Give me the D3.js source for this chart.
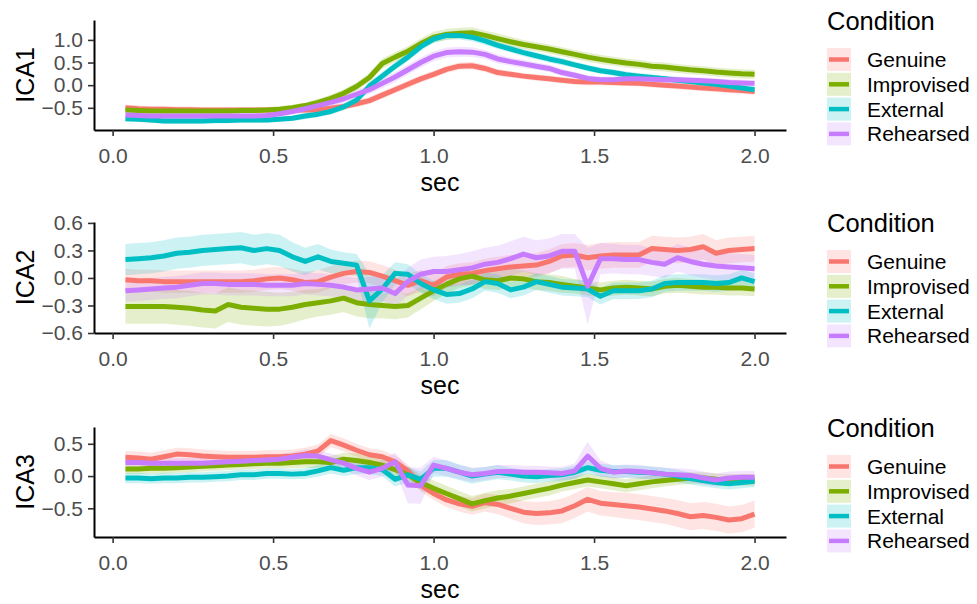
<!DOCTYPE html>
<html>
<head>
<meta charset="utf-8">
<script src="https://cdn.jsdelivr.net/npm/d3@7"></script>
<style>
  html, body { margin: 0; padding: 0; background: #fff; }
  svg { display: block; font-family: "Liberation Sans", Arial, sans-serif; }
</style>
</head>
<body>
<svg id="chart" width="977" height="604"></svg>
<script>
// ---------- data ----------
const times = [0.04,0.08,0.12,0.16,0.20,0.24,0.28,0.32,0.36,0.40,
  0.44,0.48,0.52,0.56,0.60,0.64,0.68,0.72,0.76,0.80,
  0.84,0.88,0.92,0.96,1.00,1.04,1.08,1.12,1.16,1.20,
  1.24,1.28,1.32,1.36,1.40,1.44,1.48,1.52,1.56,1.60,
  1.64,1.68,1.72,1.76,1.80,1.84,1.88,1.92,1.96,2.00];

const conditions = ["Genuine", "Improvised", "External", "Rehearsed"];
const conditionColors = ["#F8766D", "#7CAE00", "#00BFC4", "#C77CFF"];

const xTickValues = [0, 0.5, 1.0, 1.5, 2.0];
const ica1TickValues = [-0.5, 0, 0.5, 1.0];
const ica2TickValues = [-0.6, -0.3, 0, 0.3, 0.6];
const ica3TickValues = [-0.5, 0, 0.5];

// ICA1 means
const ica1Genuine = [-0.50,-0.52,-0.53,-0.53,-0.54,-0.54,-0.55,-0.55,-0.55,-0.55,
 -0.55,-0.55,-0.55,-0.55,-0.55,-0.54,-0.51,-0.47,-0.41,-0.34,
 -0.22,-0.10,0.02,0.14,0.24,0.35,0.42,0.43,0.37,0.28,
 0.24,0.20,0.17,0.14,0.11,0.08,0.07,0.07,0.06,0.05,
 0.04,0.02,0.00,-0.02,-0.04,-0.06,-0.08,-0.10,-0.12,-0.14];
const ica1Improvised = [-0.55,-0.56,-0.57,-0.57,-0.57,-0.57,-0.57,-0.57,-0.57,-0.56,
 -0.56,-0.55,-0.53,-0.50,-0.45,-0.38,-0.29,-0.18,-0.03,0.17,
 0.48,0.62,0.75,0.92,1.06,1.12,1.15,1.16,1.10,1.03,
 0.96,0.90,0.85,0.80,0.74,0.68,0.62,0.57,0.53,0.49,
 0.46,0.42,0.40,0.37,0.34,0.32,0.29,0.27,0.25,0.24];
const ica1External = [-0.74,-0.75,-0.77,-0.79,-0.79,-0.79,-0.79,-0.78,-0.78,-0.77,
 -0.77,-0.77,-0.75,-0.73,-0.68,-0.64,-0.58,-0.48,-0.33,-0.02,
 0.20,0.42,0.62,0.85,1.02,1.10,1.10,1.06,0.98,0.88,
 0.80,0.72,0.65,0.58,0.52,0.45,0.38,0.32,0.28,0.23,
 0.20,0.17,0.14,0.11,0.08,0.05,0.02,-0.02,-0.06,-0.10];
const ica1Rehearsed = [-0.66,-0.67,-0.68,-0.68,-0.68,-0.68,-0.68,-0.68,-0.68,-0.68,
 -0.68,-0.67,-0.63,-0.58,-0.52,-0.45,-0.38,-0.30,-0.20,-0.10,
 0.04,0.18,0.34,0.50,0.64,0.72,0.74,0.73,0.68,0.58,
 0.52,0.47,0.42,0.37,0.28,0.22,0.15,0.12,0.12,0.14,
 0.14,0.13,0.12,0.12,0.11,0.10,0.08,0.06,0.05,0.04];
// ICA1 ribbon half-widths
const ica1GenuineSe = [0.07,0.07,0.07,0.07,0.07,0.07,0.07,0.07,0.07,0.07,
 0.07,0.07,0.07,0.07,0.07,0.07,0.07,0.07,0.08,0.08,
 0.08,0.08,0.08,0.08,0.08,0.08,0.08,0.08,0.08,0.08,
 0.07,0.07,0.07,0.07,0.07,0.07,0.07,0.07,0.07,0.07,
 0.07,0.07,0.07,0.07,0.07,0.07,0.07,0.07,0.07,0.07];
const ica1ImprovisedSe = [0.06,0.06,0.06,0.06,0.06,0.06,0.06,0.06,0.06,0.06,
 0.06,0.06,0.07,0.07,0.07,0.08,0.08,0.09,0.09,0.10,
 0.11,0.11,0.11,0.11,0.12,0.12,0.12,0.12,0.11,0.11,
 0.11,0.10,0.10,0.10,0.10,0.10,0.10,0.10,0.10,0.10,
 0.10,0.10,0.10,0.10,0.10,0.10,0.10,0.10,0.10,0.10];
const ica1ExternalSe = [0.06,0.06,0.06,0.06,0.06,0.06,0.06,0.06,0.06,0.06,
 0.06,0.06,0.06,0.06,0.07,0.07,0.07,0.08,0.08,0.09,
 0.09,0.09,0.09,0.09,0.09,0.09,0.09,0.09,0.09,0.08,
 0.08,0.08,0.08,0.08,0.08,0.07,0.07,0.07,0.07,0.07,
 0.07,0.07,0.07,0.07,0.07,0.07,0.07,0.07,0.07,0.07];
const ica1RehearsedSe = [0.06,0.06,0.06,0.06,0.06,0.06,0.06,0.06,0.06,0.06,
 0.06,0.06,0.07,0.07,0.08,0.08,0.09,0.09,0.10,0.10,
 0.11,0.11,0.11,0.11,0.11,0.11,0.11,0.11,0.10,0.10,
 0.09,0.09,0.08,0.08,0.08,0.07,0.07,0.07,0.07,0.07,
 0.07,0.07,0.07,0.07,0.07,0.07,0.07,0.07,0.07,0.07];

// ICA2 means
const ica2Genuine = [-0.02,-0.03,-0.03,-0.04,-0.04,-0.04,-0.04,-0.04,-0.04,-0.04,
 -0.03,-0.01,0.00,-0.02,-0.05,-0.04,0.01,0.05,0.07,0.06,
 0.02,-0.03,-0.08,-0.03,-0.08,0.01,0.04,0.05,0.08,0.10,
 0.12,0.13,0.14,0.18,0.24,0.25,0.22,0.24,0.25,0.25,
 0.25,0.32,0.31,0.30,0.31,0.34,0.27,0.30,0.31,0.32];
const ica2Improvised = [-0.31,-0.31,-0.31,-0.31,-0.32,-0.33,-0.35,-0.36,-0.29,-0.32,
 -0.33,-0.34,-0.34,-0.32,-0.29,-0.27,-0.25,-0.22,-0.27,-0.29,
 -0.30,-0.31,-0.30,-0.22,-0.14,-0.07,-0.01,0.02,-0.02,-0.03,
 0.00,-0.01,-0.04,-0.05,-0.07,-0.09,-0.11,-0.13,-0.11,-0.10,
 -0.11,-0.12,-0.09,-0.08,-0.09,-0.10,-0.10,-0.11,-0.11,-0.12];
const ica2External = [0.20,0.21,0.22,0.24,0.27,0.28,0.30,0.31,0.32,0.33,
 0.30,0.32,0.30,0.23,0.18,0.23,0.18,0.16,0.14,-0.25,
 -0.12,0.05,0.04,-0.06,-0.13,-0.18,-0.17,-0.12,-0.04,-0.06,
 -0.13,-0.10,-0.04,-0.07,-0.10,-0.11,-0.12,-0.20,-0.14,-0.14,
 -0.14,-0.12,-0.06,-0.05,-0.05,-0.05,-0.06,-0.05,0.00,-0.04];
const ica2Rehearsed = [-0.14,-0.13,-0.12,-0.11,-0.10,-0.08,-0.06,-0.06,-0.07,-0.07,
 -0.07,-0.08,-0.08,-0.08,-0.06,-0.07,-0.08,-0.10,-0.13,-0.12,
 -0.11,-0.17,-0.04,0.04,0.07,0.07,0.09,0.11,0.15,0.17,
 0.21,0.26,0.22,0.24,0.29,0.29,-0.09,0.21,0.21,0.20,
 0.20,0.17,0.15,0.22,0.18,0.15,0.13,0.12,0.11,0.10];
// ICA2 ribbon half-widths
const ica2GenuineSe = [0.12,0.12,0.12,0.12,0.12,0.12,0.12,0.12,0.12,0.12,
 0.12,0.12,0.12,0.12,0.12,0.12,0.12,0.12,0.12,0.12,
 0.12,0.12,0.12,0.12,0.12,0.12,0.12,0.12,0.13,0.13,
 0.13,0.13,0.13,0.13,0.13,0.13,0.14,0.14,0.14,0.14,
 0.14,0.14,0.14,0.14,0.14,0.14,0.14,0.14,0.14,0.14];
const ica2ImprovisedSe = [0.19,0.19,0.19,0.19,0.19,0.19,0.19,0.19,0.19,0.19,
 0.19,0.19,0.18,0.17,0.16,0.15,0.15,0.15,0.15,0.15,
 0.14,0.14,0.13,0.12,0.11,0.10,0.10,0.10,0.10,0.10,
 0.10,0.09,0.09,0.09,0.09,0.08,0.08,0.08,0.08,0.08,
 0.08,0.08,0.08,0.08,0.08,0.08,0.08,0.08,0.08,0.08];
const ica2ExternalSe = [0.17,0.17,0.17,0.17,0.17,0.17,0.17,0.17,0.17,0.17,
 0.17,0.17,0.17,0.16,0.15,0.14,0.13,0.12,0.12,0.30,
 0.15,0.12,0.11,0.10,0.10,0.10,0.10,0.10,0.10,0.10,
 0.09,0.09,0.09,0.09,0.09,0.09,0.09,0.09,0.09,0.09,
 0.09,0.09,0.09,0.09,0.09,0.09,0.09,0.09,0.09,0.09];
const ica2RehearsedSe = [0.12,0.12,0.12,0.12,0.12,0.12,0.12,0.12,0.12,0.12,
 0.12,0.12,0.12,0.12,0.12,0.12,0.12,0.12,0.13,0.13,
 0.14,0.14,0.15,0.16,0.16,0.17,0.17,0.18,0.18,0.18,
 0.19,0.19,0.19,0.19,0.19,0.19,0.42,0.17,0.16,0.16,
 0.16,0.15,0.15,0.15,0.15,0.15,0.15,0.15,0.15,0.15];

// ICA3 means
const ica3Genuine = [0.29,0.28,0.26,0.30,0.34,0.33,0.31,0.30,0.29,0.29,
 0.29,0.30,0.30,0.31,0.34,0.39,0.55,0.48,0.40,0.33,
 0.30,0.22,0.08,-0.14,-0.27,-0.37,-0.43,-0.47,-0.41,-0.44,
 -0.50,-0.56,-0.58,-0.57,-0.54,-0.46,-0.36,-0.42,-0.44,-0.46,
 -0.48,-0.51,-0.54,-0.58,-0.63,-0.61,-0.64,-0.68,-0.66,-0.59];
const ica3Improvised = [0.11,0.11,0.12,0.12,0.13,0.14,0.15,0.16,0.17,0.18,
 0.19,0.20,0.20,0.21,0.22,0.22,0.21,0.26,0.24,0.21,
 0.17,0.10,0.02,-0.10,-0.19,-0.27,-0.35,-0.43,-0.38,-0.34,
 -0.31,-0.27,-0.23,-0.19,-0.14,-0.10,-0.06,-0.09,-0.12,-0.15,
 -0.12,-0.09,-0.07,-0.05,-0.03,-0.03,-0.05,-0.06,-0.06,-0.06];
const ica3External = [-0.03,-0.03,-0.04,-0.03,-0.03,-0.02,-0.02,-0.01,0.00,0.02,
 0.02,0.04,0.04,0.03,0.04,0.08,0.13,0.09,0.13,0.13,
 0.10,-0.05,0.02,-0.05,0.12,0.12,0.06,0.00,0.03,0.06,
 0.03,0.00,-0.01,0.01,0.02,0.06,0.13,0.09,0.07,0.07,
 0.06,0.05,0.03,0.00,-0.04,-0.07,-0.10,-0.12,-0.10,-0.08];
const ica3Rehearsed = [0.21,0.21,0.20,0.20,0.20,0.20,0.20,0.21,0.22,0.23,
 0.24,0.25,0.26,0.29,0.32,0.31,0.25,0.20,0.12,0.06,
 0.12,0.22,-0.14,-0.15,0.17,0.12,0.06,0.02,0.04,0.07,
 0.07,0.06,0.06,0.05,0.04,0.08,0.31,0.12,0.06,0.08,
 0.07,0.05,0.03,0.02,0.01,-0.03,-0.06,-0.03,-0.02,-0.02];
// ICA3 ribbon half-widths
const ica3GenuineSe = [0.10,0.10,0.10,0.10,0.10,0.10,0.10,0.10,0.10,0.10,
 0.10,0.10,0.10,0.10,0.10,0.10,0.10,0.10,0.10,0.10,
 0.10,0.10,0.10,0.10,0.10,0.11,0.12,0.13,0.14,0.15,
 0.16,0.17,0.18,0.18,0.19,0.19,0.19,0.19,0.19,0.20,
 0.20,0.20,0.20,0.21,0.21,0.21,0.21,0.21,0.21,0.21];
const ica3ImprovisedSe = [0.08,0.08,0.08,0.08,0.08,0.08,0.08,0.08,0.08,0.08,
 0.08,0.08,0.08,0.09,0.09,0.10,0.10,0.10,0.11,0.11,
 0.12,0.12,0.12,0.12,0.12,0.12,0.12,0.12,0.12,0.12,
 0.11,0.11,0.11,0.11,0.10,0.10,0.10,0.10,0.10,0.10,
 0.10,0.10,0.09,0.09,0.09,0.09,0.09,0.09,0.09,0.09];
const ica3ExternalSe = [0.08,0.08,0.08,0.08,0.08,0.08,0.08,0.08,0.08,0.08,
 0.08,0.08,0.08,0.08,0.08,0.09,0.09,0.09,0.10,0.10,
 0.10,0.11,0.12,0.12,0.13,0.13,0.12,0.12,0.11,0.11,
 0.10,0.10,0.10,0.10,0.10,0.10,0.10,0.10,0.10,0.10,
 0.10,0.10,0.10,0.10,0.09,0.09,0.09,0.09,0.09,0.09];
const ica3RehearsedSe = [0.08,0.08,0.08,0.08,0.08,0.08,0.08,0.08,0.08,0.08,
 0.08,0.08,0.08,0.08,0.09,0.09,0.10,0.10,0.11,0.12,
 0.13,0.14,0.28,0.28,0.13,0.12,0.11,0.11,0.10,0.10,
 0.10,0.10,0.10,0.10,0.10,0.12,0.22,0.12,0.10,0.10,
 0.10,0.10,0.10,0.10,0.10,0.10,0.10,0.10,0.10,0.10];

// ---------- build panels ----------
const panels = [
  { label: "ICA1", top: 20,  bottom: 130, yDomain: [-0.99, 1.44], ticks: ica1TickValues,
    means: [ica1Genuine, ica1Improvised, ica1External, ica1Rehearsed],
    ses:   [ica1GenuineSe, ica1ImprovisedSe, ica1ExternalSe, ica1RehearsedSe] },
  { label: "ICA2", top: 222, bottom: 333, yDomain: [-0.6, 0.61], ticks: ica2TickValues,
    means: [ica2Genuine, ica2Improvised, ica2External, ica2Rehearsed],
    ses:   [ica2GenuineSe, ica2ImprovisedSe, ica2ExternalSe, ica2RehearsedSe] },
  { label: "ICA3", top: 427, bottom: 537, yDomain: [-0.944, 0.76], ticks: ica3TickValues,
    means: [ica3Genuine, ica3Improvised, ica3External, ica3Rehearsed],
    ses:   [ica3GenuineSe, ica3ImprovisedSe, ica3ExternalSe, ica3RehearsedSe] }
];

const svg = d3.select("#chart");
const left = 94, right = 786;
const x = d3.scaleLinear().domain([-0.058, 2.098]).range([left, right]);
const color = d3.scaleOrdinal().domain(conditions).range(conditionColors);
const fmt = d3.format(".1f");

panels.forEach(p => {
  const y = d3.scaleLinear().domain(p.yDomain).range([p.bottom, p.top]);
  const g = svg.append("g");

  const seriesData = conditions.map((c, ci) => ({
    name: c,
    pts: times.map((t, i) => ({ t: t, m: p.means[ci][i], s: p.ses[ci][i] }))
  }));

  const area = d3.area()
    .x(d => x(d.t))
    .y0(d => y(d.m - d.s))
    .y1(d => y(d.m + d.s));
  const line = d3.line()
    .x(d => x(d.t))
    .y(d => y(d.m));

  g.selectAll("path.ribbon").data(seriesData).enter().append("path")
    .attr("class", "ribbon")
    .attr("d", d => area(d.pts))
    .attr("fill", d => color(d.name))
    .attr("fill-opacity", 0.2)
    .attr("stroke", "none");

  g.selectAll("path.line").data(seriesData).enter().append("path")
    .attr("class", "line")
    .attr("d", d => line(d.pts))
    .attr("fill", "none")
    .attr("stroke", d => color(d.name))
    .attr("stroke-width", 5)
    .attr("stroke-linejoin", "round");

  // axes
  const yAxis = d3.axisLeft(y).tickValues(p.ticks).tickFormat(fmt)
    .tickSize(6).tickSizeOuter(0).tickPadding(5);
  const xAxis = d3.axisBottom(x).tickValues(xTickValues).tickFormat(fmt)
    .tickSize(6).tickSizeOuter(0).tickPadding(12);

  const ya = g.append("g").attr("transform", `translate(${left},0)`).call(yAxis);
  const xa = g.append("g").attr("transform", `translate(0,${p.bottom})`).call(xAxis);
  [ya, xa].forEach(a => {
    a.select(".domain").attr("stroke", "#000").attr("stroke-width", 2);
    a.selectAll(".tick line").attr("stroke", "#333").attr("stroke-width", 1.6);
    a.selectAll(".tick text")
      .attr("fill", "#4d4d4d")
      .style("font-size", "21px")
      .style("font-family", "'Liberation Sans', Arial, sans-serif");
  });

  // axis titles
  g.append("text")
    .attr("x", (left + right) / 2)
    .attr("y", p.bottom + 61)
    .attr("text-anchor", "middle")
    .attr("fill", "#000")
    .style("font-size", "25px")
    .text("sec");

  const cy = (p.top + p.bottom) / 2;
  g.append("text")
    .attr("transform", `translate(34,${cy}) rotate(-90)`)
    .attr("text-anchor", "middle")
    .attr("fill", "#000")
    .style("font-size", "25px")
    .text(p.label);

  // legend
  const lg = svg.append("g");
  lg.append("text")
    .attr("x", 827)
    .attr("y", p.top + 10)
    .attr("fill", "#000")
    .style("font-size", "25.5px")
    .text("Condition");

  conditions.forEach((c, i) => {
    const rc = p.top + 39.5 + i * 24.8;
    lg.append("rect")
      .attr("x", 827).attr("y", rc - 11.5)
      .attr("width", 24).attr("height", 23)
      .attr("fill", color(c)).attr("fill-opacity", 0.2);
    lg.append("line")
      .attr("x1", 829).attr("x2", 849)
      .attr("y1", rc).attr("y2", rc)
      .attr("stroke", color(c)).attr("stroke-width", 4.5);
    lg.append("text")
      .attr("x", 867)
      .attr("y", rc + 7.5)
      .attr("fill", "#000")
      .style("font-size", "21px")
      .text(c);
  });
});
</script>
</body>
</html>
